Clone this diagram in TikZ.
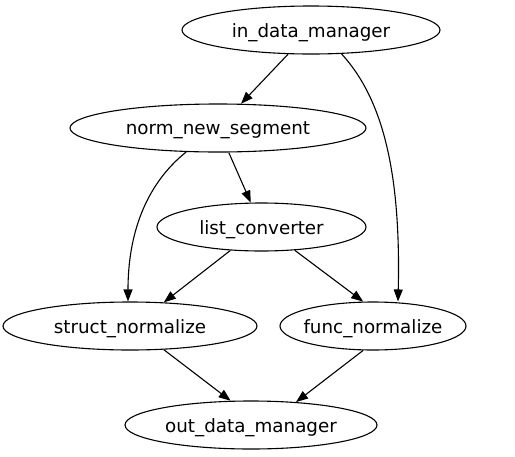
\documentclass[tikz,border=0pt]{standalone}
\usepackage{fontspec}
\setmainfont{DejaVu Sans}
\usetikzlibrary{shapes.geometric,arrows.meta}
\begin{document}
\begin{tikzpicture}[x=1pt,y=-1pt,
  nd/.style={draw,ellipse,inner sep=0pt,line width=1.1pt,minimum height=48pt,
    label={[font=\fontsize{18.3}{20}\selectfont,inner sep=0pt,yshift=-2.3pt]center:#1}},
  edge/.style={draw,line width=1.1pt,-{Triangle[length=12pt,width=9pt]}}]
\useasboundingbox (0,0) rectangle (515,456);
\node[nd={in\_data\_manager},minimum width=258pt] (in) at (311,30) {};
\node[nd={norm\_new\_segment},minimum width=296pt] (norm) at (218,128) {};
\node[nd={list\_converter},minimum width=209pt] (list) at (261.5,227) {};
\node[nd={struct\_normalize},minimum width=254pt] (struct) at (130,326) {};
\node[nd={func\_normalize},minimum width=186pt] (func) at (373,326) {};
\node[nd={out\_data\_manager},minimum width=252pt] (out) at (251,425) {};
\draw[edge] (in) -- (norm);
\draw[edge] (in.-38) .. controls (382,98) and (401,170) .. (func.north -| 398,0);
\draw[edge] (norm) -- (list);
\draw[edge] (norm.-143) .. controls (145,185) and (128,235) .. (struct.north -| 128,0);
\draw[edge] (list.-143) -- (struct.35);
\draw[edge] (list.-35) -- (func.112.7);
\draw[edge] (struct.-35) -- (out.130);
\draw[edge] (func.-112.7) -- (out.27.7);
\end{tikzpicture}
\end{document}
